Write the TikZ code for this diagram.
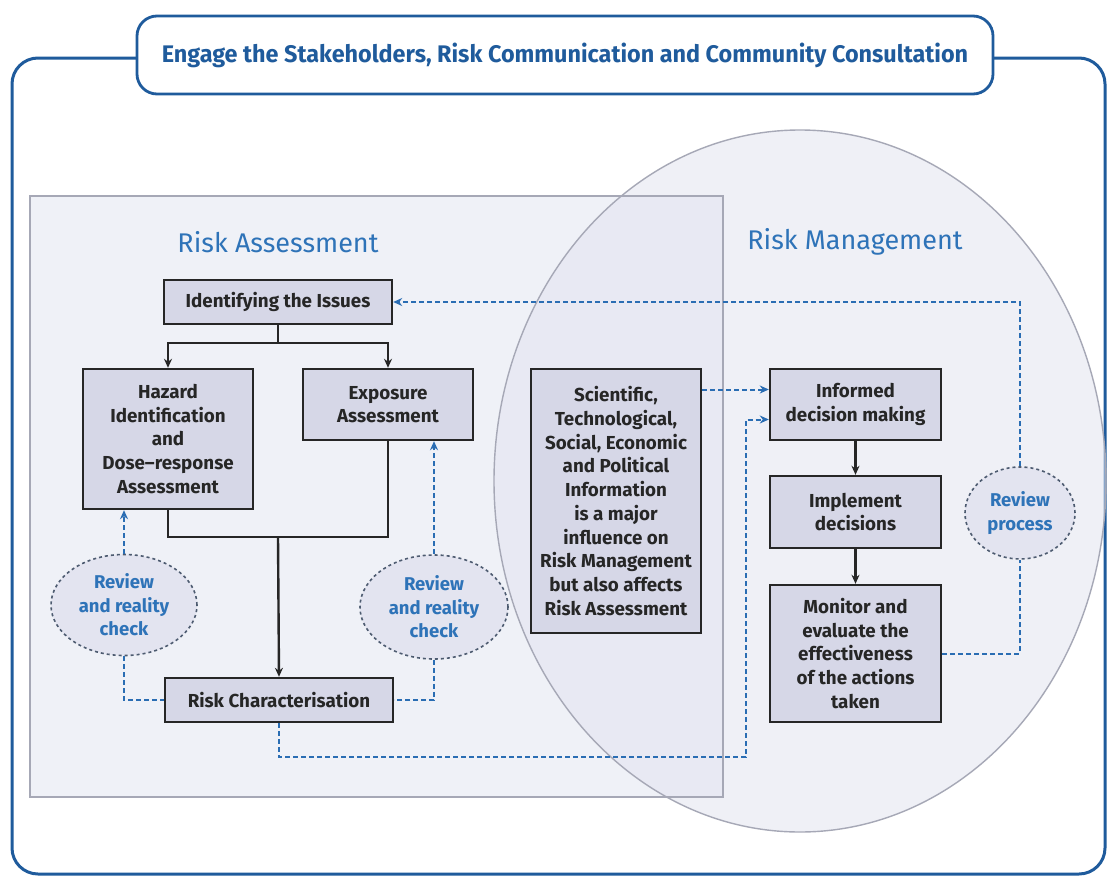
\documentclass[tikz,border=0pt]{standalone}
\usepackage{fontspec}
\setmainfont{Fira Sans}
\usetikzlibrary{arrows.meta,shapes.geometric}
\definecolor{frameblue}{HTML}{1F5B9C}
\definecolor{textblue}{HTML}{2E73B8}
\definecolor{dashblue}{HTML}{2A6DB3}
\definecolor{boxfill}{HTML}{D6D7E7}
\definecolor{rectfill}{HTML}{EDEFF6}
\definecolor{ellfill}{HTML}{E3E4F0}
\definecolor{edgegray}{HTML}{A6A8B6}
\definecolor{circborder}{HTML}{4D5B70}
\tikzset{
  stepbox/.style={draw=black!85, line width=2.4pt, fill=boxfill, align=center, inner sep=0pt,
    font=\bfseries\fontsize{18.8}{23.7}\selectfont, text=black!85},
  reviewcirc/.style={ellipse, draw=circborder, dashed, line width=1.6pt, fill=ellfill, align=center,
    font=\bfseries\fontsize{18.5}{23.5}\selectfont, text=textblue, inner sep=0pt},
  flow/.style={line width=2.4pt, draw=black!85},
  flowarrow/.style={flow, -{Stealth[length=9pt,width=8pt]}},
  dashlink/.style={draw=dashblue, line width=2pt, dash pattern=on 5pt off 3pt},
  dasharrow/.style={dashlink, -{Stealth[length=9pt,width=8pt]}},
  heading/.style={text=textblue, font=\fontsize{27}{30}\selectfont}
}
\begin{document}
\begin{tikzpicture}[x=1pt,y=-1pt]
\useasboundingbox (0,0) rectangle (1108,878);
\fill[white] (0,0) rectangle (1108,878);
% outer frame
\draw[frameblue, line width=3pt, rounded corners=26pt] (12,58) rectangle (1105,874);
% risk assessment region
\fill[rectfill, opacity=0.85] (30,196) rectangle (723,797);
\fill[ellfill, opacity=0.55] (800,481) ellipse [x radius=306, y radius=351];
\draw[edgegray, line width=1.4pt] (30,196) rectangle (723,797);
\draw[edgegray, line width=1.4pt] (800,481) ellipse [x radius=306, y radius=351];
% title
\node[draw=frameblue, line width=2.8pt, rounded corners=20pt, fill=white, minimum width=856pt, minimum height=78pt, inner sep=0pt,
  text=frameblue, font=\bfseries\fontsize{24}{28}\selectfont] (title) at (565,55)
  {\scalebox{0.975}[1]{Engage the Stakeholders, Risk Communication and Community Consultation}};
% headings
\node[heading] (rah) at (278,242) {Risk Assessment};
\node[heading] (rmh) at (855,242) {Risk Management};
% boxes
\node[stepbox, minimum width=228pt, minimum height=44pt] (iss) at (278,302) {Identifying the Issues};
\node[stepbox, minimum width=170pt, minimum height=140pt] (haz) at (168,439) {Hazard\\Identification\\and\\Dose--response\\Assessment};
\node[stepbox, minimum width=170pt, minimum height=71pt] (exp) at (388,404.5) {Exposure\\Assessment};
\node[stepbox, minimum width=228pt, minimum height=44pt] (rc) at (279,700) {Risk Characterisation};
\node[stepbox, minimum width=170pt, minimum height=264pt] (sci) at (616,501) {Scientific,\\Technological,\\Social, Economic\\and Political\\Information\\is a major\\influence on\\Risk Management\\but also affects\\Risk Assessment};
\node[stepbox, minimum width=171pt, minimum height=71pt] (inf) at (855.5,404.5) {Informed\\decision making};
\node[stepbox, minimum width=171pt, minimum height=72pt] (imp) at (855.5,512) {Implement\\decisions};
\node[stepbox, minimum width=171pt, minimum height=137pt] (mon) at (855.5,653.5) {Monitor and\\evaluate the\\effectiveness\\of the actions\\taken};
% review circles
\node[reviewcirc, minimum width=146pt, minimum height=101pt] (rv1) at (124,605) {Review\\and reality\\check};
\node[reviewcirc, minimum width=148pt, minimum height=104pt] (rv2) at (434,607) {Review\\and reality\\check};
\node[reviewcirc, minimum width=110pt, minimum height=92pt] (rv3) at (1020,513) {Review\\process};
% coordinates
\coordinate (split) at (278,343);
\coordinate (join) at (278,537);
% black flow
\draw[flow] (iss.south) -- (split);
\draw[flowarrow] (split) -| (haz.north);
\draw[flowarrow] (split) -| (exp.north);
\draw[flow] (haz.south) |- (join) -| (exp.south);
\draw[flowarrow] (join) -- (rc.north);
\draw[flowarrow] (inf.south) -- (imp.north);
\draw[flowarrow] (imp.south) -- (mon.north);
% dashed blue links
\draw[dasharrow] (rv1.north) -- (rv1.north |- haz.south);
\draw[dashlink] (rv1.south) |- (rc.west);
\draw[dasharrow] (rv2.north) -- (rv2.north |- exp.south);
\draw[dashlink] (rv2.south) |- (rc.east);
\coordinate (rcdown) at (279,757);
\coordinate (upturn) at (746,757);
\draw[dasharrow] (rc.south) -- (rcdown) -- (upturn) |- ([yshift=-15pt]inf.west);
\draw[dasharrow] ([yshift=15pt]sci.east |- inf.west) -- ([yshift=15pt]inf.west);
\draw[dashlink] (mon.east) -| (rv3.south);
\draw[dasharrow] (rv3.north) |- (iss.east);
\end{tikzpicture}
\end{document}
